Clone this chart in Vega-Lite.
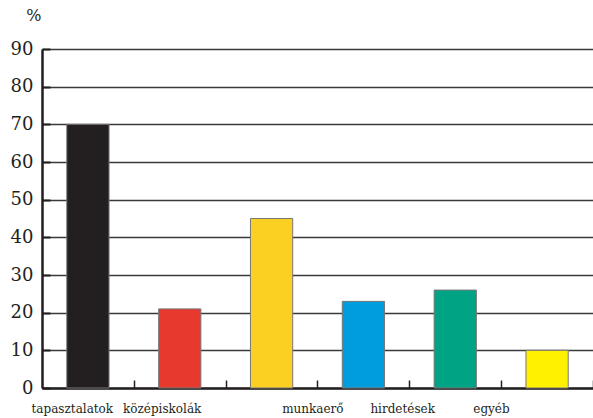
{
  "$schema": "https://vega.github.io/schema/vega-lite/v6.json",
  "width": 551,
  "height": 339,
  "autosize": "none",
  "padding": {"left": 42, "top": 49, "right": 0, "bottom": 30},
  "background": "white",
  "data": {
    "values": [
      {"cat": "tapasztalatok", "value": 70, "color": "#231f20"},
      {"cat": "középiskolák", "value": 21, "color": "#e8392f"},
      {"cat": " ", "value": 45, "color": "#fcd022"},
      {"cat": "munkaerő", "value": 23, "color": "#009ddc"},
      {"cat": "hirdetések", "value": 26, "color": "#00a384"},
      {"cat": "egyéb", "value": 10, "color": "#fff100"}
    ]
  },
  "mark": {"type": "bar", "stroke": "#777777", "strokeWidth": 1},
  "encoding": {
    "x": {
      "field": "cat",
      "type": "nominal",
      "sort": null,
      "scale": {"paddingInner": 0.54, "paddingOuter": 0.27},
      "axis": {
        "title": null,
        "labelAngle": 0,
        "labelFont": "DejaVu Serif",
        "labelFontSize": 12,
        "labelColor": "#231f20",
        "labelPadding": 28,
        "labelBaseline": "middle",
        "labelOffset": {
          "condition": [
            {"test": "datum.value == 'tapasztalatok'", "value": -62},
            {"test": "datum.value == 'középiskolák'", "value": -64},
            {"test": "datum.value == 'munkaerő'", "value": -97},
            {"test": "datum.value == 'hirdetések'", "value": -99},
            {"test": "datum.value == 'egyéb'", "value": -102}
          ],
          "value": 0
        },
        "domainColor": "#231f20",
        "domainWidth": 2.5,
        "ticks": true,
        "tickBand": "center",
        "tickOffset": 45.9,
        "tickSize": -8,
        "tickWidth": 1.5,
        "tickColor": "#231f20"
      }
    },
    "y": {
      "field": "value",
      "type": "quantitative",
      "scale": {"domain": [0, 90]},
      "axis": {
        "values": [0, 10, 20, 30, 40, 50, 60, 70, 80, 90],
        "title": "%",
        "titleAngle": 0,
        "titleFont": "DejaVu Serif",
        "titleFontSize": 16,
        "titleFontWeight": "normal",
        "titleColor": "#231f20",
        "titleX": -1,
        "titleY": -26,
        "titleAlign": "right",
        "labelFont": "DejaVu Serif",
        "labelFontSize": 18,
        "labelColor": "#231f20",
        "labelPadding": 17,
        "domainColor": "#231f20",
        "domainWidth": 2.5,
        "tickSize": -8,
        "tickWidth": 2,
        "tickColor": "#231f20",
        "grid": true,
        "gridColor": "#3a3a3a",
        "gridWidth": 1.5
      }
    },
    "fill": {"field": "color", "type": "nominal", "scale": null, "legend": null}
  },
  "config": {"view": {"stroke": null}}
}
